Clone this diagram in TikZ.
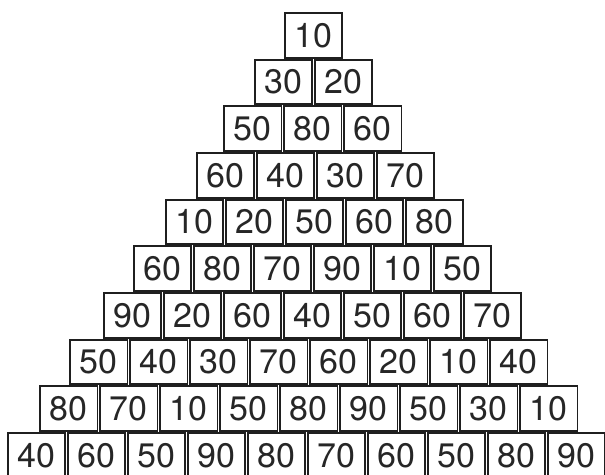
\documentclass[tikz,border=0pt]{standalone}
\usepackage{fontspec}
\setmainfont{TeX Gyre Heros}
\begin{document}
\begin{tikzpicture}[x=1pt,y=-1pt,
  cell/.style={draw=black!88, line width=1.9pt, minimum width=57.2pt, minimum height=44.8pt,
    inner sep=0pt, outer sep=0pt, anchor=north west, font=\fontsize{34}{34}\selectfont, text=black!85}]
\useasboundingbox (0,0) rectangle (605,474);
\clip (0,0) rectangle (605,474);
\foreach \r/\x/\vals in {
  1/284/{10},
  2/254/{30,20},
  3/223.3/{50,80,60},
  4/196/{60,40,30,70},
  5/165/{10,20,50,60,80},
  6/133/{60,80,70,90,10,50},
  7/102.7/{90,20,60,40,50,60,70},
  8/69.3/{50,40,30,70,60,20,10,40},
  9/39.3/{80,70,10,50,80,90,50,30,10},
  10/7/{40,60,50,90,80,70,60,50,80,90}} {
  \foreach \v [count=\c] in \vals {
    \node[cell] (n\r-\c) at ({\x+60*(\c-1)+0.95}, {12.95+46.67*(\r-1)}) {\v};
  }
}
\end{tikzpicture}
\end{document}
